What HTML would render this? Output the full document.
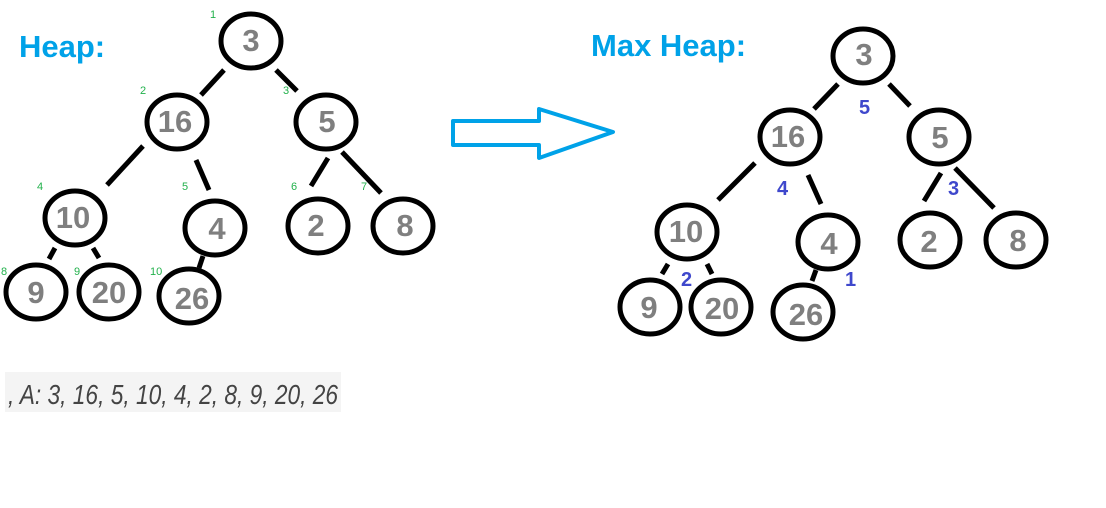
<!DOCTYPE html>
<html><head><meta charset="utf-8"><style>
body{margin:0;background:#fff;width:1106px;height:503px;overflow:hidden}
svg text{font-family:"Liberation Sans",sans-serif}
</style></head><body>
<svg width="1106" height="503" viewBox="0 0 1106 503" xmlns="http://www.w3.org/2000/svg">
<g font-weight="bold" fill="#00a2e8" font-size="31">
<text x="19" y="57">Heap:</text>
<text x="591" y="56">Max Heap:</text>
</g>
<polygon points="453,121 539,121 539,109 613,132 539,158 539,145 453,145" fill="none" stroke="#00a2e8" stroke-width="4" stroke-linejoin="round"/>
<g stroke="#000" stroke-width="5" stroke-linecap="butt">
<line x1="224" y1="70" x2="201" y2="95"/><line x1="276" y1="70" x2="297" y2="91"/>
<line x1="143" y1="146" x2="107" y2="185"/><line x1="196" y1="160" x2="209" y2="190"/>
<line x1="328" y1="158" x2="311" y2="186"/><line x1="342" y1="152" x2="381" y2="193"/>
<line x1="55" y1="248" x2="49" y2="259"/><line x1="93" y1="248" x2="99" y2="258"/>
<line x1="203" y1="256" x2="199" y2="268"/>
<line x1="838" y1="84" x2="814" y2="109"/><line x1="889" y1="84" x2="910" y2="106"/>
<line x1="755" y1="163" x2="718" y2="200"/><line x1="808" y1="175" x2="821" y2="204"/>
<line x1="941" y1="173" x2="924" y2="201"/><line x1="955" y1="168" x2="994" y2="208"/>
<line x1="668" y1="264" x2="662" y2="274"/><line x1="707" y1="264" x2="712" y2="274"/>
<line x1="816" y1="270" x2="812" y2="281"/>
</g>
<g fill="none" stroke="#000" stroke-width="5">
<ellipse cx="251" cy="41" rx="30" ry="27"/><ellipse cx="177" cy="122" rx="30" ry="27"/>
<ellipse cx="326" cy="122" rx="30" ry="27"/><ellipse cx="75" cy="218" rx="30" ry="27"/>
<ellipse cx="215" cy="228" rx="30" ry="27"/><ellipse cx="318" cy="226" rx="30" ry="27"/>
<ellipse cx="403" cy="226" rx="30" ry="27"/><ellipse cx="36" cy="292" rx="30" ry="27"/>
<ellipse cx="109" cy="292" rx="30" ry="27"/><ellipse cx="189" cy="296" rx="30" ry="27"/>
<ellipse cx="863" cy="56" rx="30" ry="27"/><ellipse cx="790" cy="137" rx="30" ry="27"/>
<ellipse cx="939" cy="137" rx="30" ry="27"/><ellipse cx="687" cy="232" rx="30" ry="27"/>
<ellipse cx="828" cy="242" rx="30" ry="27"/><ellipse cx="930" cy="240" rx="30" ry="27"/>
<ellipse cx="1016" cy="240" rx="30" ry="27"/><ellipse cx="650" cy="307" rx="30" ry="27"/>
<ellipse cx="721" cy="307" rx="30" ry="27"/><ellipse cx="803" cy="312" rx="30" ry="27"/>
</g>
<g fill="#7f7f7f" font-weight="bold" font-size="31" text-anchor="middle">
<text x="251" y="51">3</text><text x="175" y="132">16</text><text x="327" y="132">5</text>
<text x="73" y="228">10</text><text x="217" y="239">4</text><text x="316" y="236">2</text>
<text x="405" y="236">8</text><text x="36" y="303">9</text><text x="109" y="303">20</text>
<text x="192" y="309">26</text>
<text x="864" y="65">3</text><text x="788" y="147">16</text><text x="940" y="148">5</text>
<text x="686" y="242">10</text><text x="829" y="254">4</text><text x="929" y="252">2</text>
<text x="1018" y="251">8</text><text x="649" y="318">9</text><text x="722" y="319">20</text>
<text x="806" y="325">26</text>
</g>
<g fill="#22b14c" font-size="11">
<text x="210" y="18">1</text><text x="140" y="94">2</text><text x="283" y="94">3</text>
<text x="37" y="190">4</text><text x="182" y="190">5</text><text x="291" y="190">6</text>
<text x="361" y="190">7</text><text x="1" y="275">8</text><text x="74" y="275">9</text>
<text x="150" y="275">10</text>
</g>
<g fill="#3f48cc" font-weight="bold" font-size="20">
<text x="859" y="114">5</text><text x="777" y="195">4</text><text x="948" y="195">3</text>
<text x="681" y="286">2</text><text x="845" y="286">1</text>
</g>
<rect x="5" y="372" width="336" height="40" fill="#f4f4f4"/>
<text x="8" y="404" font-size="28" fill="#444" font-style="italic" textLength="330" lengthAdjust="spacingAndGlyphs" font-family="Liberation Sans,sans-serif">, A: 3, 16, 5, 10, 4, 2, 8, 9, 20, 26</text>
</svg>
</body></html>
